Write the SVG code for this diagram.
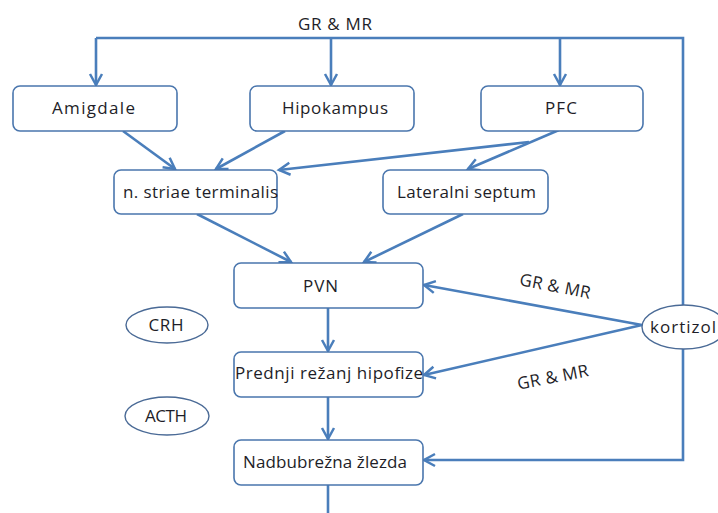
<svg xmlns="http://www.w3.org/2000/svg" width="718" height="513" viewBox="0 0 718 513">
<defs>
<marker id="arr" markerUnits="userSpaceOnUse" markerWidth="16" markerHeight="16" refX="12" refY="7" orient="auto" viewBox="0 0 16 14">
<path d="M1,1 L12,7 L1,13" fill="none" stroke="#4a7ebb" stroke-width="2.5" stroke-linejoin="miter"/>
</marker>
<style>
.box{fill:#fff;stroke:#4a76ad;stroke-width:1.6}
.ell{fill:#fff;stroke:#4a6a96;stroke-width:1.4}
.t{font-family:"Open Sans","Liberation Sans",Arial,sans-serif;font-size:17px;fill:#1e1e28}
.ln{fill:none;stroke:#4a7ebb;stroke-width:2.6}
.ar{fill:none;stroke:#4a7ebb;stroke-width:2.6;marker-end:url(#arr)}
</style>
</defs>
<rect width="718" height="513" fill="#fff"/>
<g id="connectors">
<polyline class="ln" points="96,38 683,38 683,305"/>
<line class="ar" x1="96" y1="38" x2="96" y2="85"/>
<line class="ar" x1="331" y1="38" x2="331" y2="85"/>
<line class="ar" x1="560" y1="38" x2="560" y2="85"/>
<line class="ar" x1="123" y1="131" x2="175" y2="169"/>
<line class="ar" x1="285" y1="131" x2="216" y2="169"/>
<line class="ar" x1="559" y1="130" x2="468" y2="169"/>
<line class="ar" x1="529" y1="142" x2="279" y2="170"/>
<line class="ar" x1="197" y1="214" x2="291" y2="262"/>
<line class="ar" x1="463" y1="214" x2="364" y2="262"/>
<line class="ar" x1="328" y1="308" x2="328" y2="351"/>
<line class="ar" x1="328" y1="397" x2="328" y2="439"/>
<line class="ln" x1="328" y1="485" x2="328" y2="513"/>
<line class="ar" x1="642" y1="325" x2="424" y2="285"/>
<line class="ar" x1="642" y1="325" x2="424" y2="375"/>
<polyline class="ar" points="683,349 683,460 424,460"/>
<text class="t" x="335" y="30" text-anchor="middle" textLength="74" lengthAdjust="spacing">GR &amp; MR</text>
<text class="t" x="555" y="292" text-anchor="middle" textLength="72" lengthAdjust="spacing" transform="rotate(11 555 287)">GR &amp; MR</text>
<text class="t" x="553" y="383" text-anchor="middle" textLength="72" lengthAdjust="spacing" transform="rotate(-11 553 378)">GR &amp; MR</text>
</g>
<g id="amigdale">
<rect class="box" x="13" y="86" width="164" height="45" rx="7"/>
<text class="t" x="52" y="114" textLength="83" lengthAdjust="spacing">Amigdale</text>
</g>
<g id="hipokampus">
<rect class="box" x="250" y="86" width="164" height="45" rx="7"/>
<text class="t" x="282" y="114" textLength="106" lengthAdjust="spacing">Hipokampus</text>
</g>
<g id="pfc">
<rect class="box" x="481" y="86" width="162" height="45" rx="7"/>
<text class="t" x="545" y="114" textLength="32" lengthAdjust="spacing">PFC</text>
</g>
<g id="nst">
<rect class="box" x="114" y="170" width="163" height="44" rx="7"/>
<text class="t" x="123" y="198" textLength="155" lengthAdjust="spacing">n. striae terminalis</text>
</g>
<g id="lateralni">
<rect class="box" x="383" y="170" width="165" height="44" rx="7"/>
<text class="t" x="397" y="198" textLength="139" lengthAdjust="spacing">Lateralni septum</text>
</g>
<g id="pvn">
<rect class="box" x="234" y="263" width="189" height="45" rx="7"/>
<text class="t" x="303" y="292" textLength="35" lengthAdjust="spacing">PVN</text>
</g>
<g id="prednji">
<rect class="box" x="234" y="352" width="189" height="45" rx="7"/>
<text class="t" x="235" y="379" textLength="188" lengthAdjust="spacing">Prednji režanj hipofize</text>
</g>
<g id="nadbubrezna">
<rect class="box" x="234" y="440" width="189" height="45" rx="7"/>
<text class="t" x="243" y="468" textLength="164" lengthAdjust="spacing">Nadbubrežna žlezda</text>
</g>
<g id="crh">
<ellipse class="ell" cx="167" cy="325" rx="41" ry="18"/>
<text class="t" x="166" y="331" text-anchor="middle" textLength="35" lengthAdjust="spacing">CRH</text>
</g>
<g id="acth">
<ellipse class="ell" cx="167" cy="416" rx="42" ry="19"/>
<text class="t" x="166" y="422" text-anchor="middle" textLength="42" lengthAdjust="spacing">ACTH</text>
</g>
<g id="kortizol">
<ellipse class="ell" cx="684" cy="327" rx="42" ry="22"/>
<text class="t" x="650" y="333" textLength="66" lengthAdjust="spacing">kortizol</text>
</g>
</svg>
